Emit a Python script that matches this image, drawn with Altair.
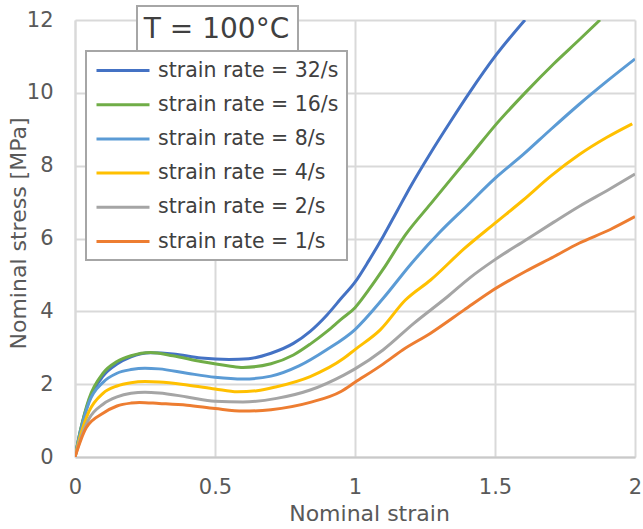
import altair as alt
import pandas as pd

labels = ["strain rate = 32/s", "strain rate = 16/s", "strain rate = 8/s",
          "strain rate = 4/s", "strain rate = 2/s", "strain rate = 1/s"]
colors = ["#4472C4", "#70AD47", "#5B9BD5", "#FFC000", "#A5A5A5", "#ED7D31"]
box_title = ["T = 100°C"]
x_ticks = [0, 0.5, 1, 1.5, 2]
y_ticks = [0, 2, 4, 6, 8, 10, 12]

strain_32 = [0, 0.02, 0.05, 0.1, 0.15, 0.2, 0.27, 0.35, 0.45, 0.55, 0.62, 0.7, 0.78, 0.84, 0.9, 0.95,
             1.0, 1.05, 1.1, 1.15, 1.2, 1.27, 1.34, 1.41, 1.5, 1.607]
stress_32 = [0, 0.75, 1.55, 2.22, 2.55, 2.75, 2.86, 2.83, 2.72, 2.68, 2.7, 2.85, 3.12, 3.45, 3.9, 4.35,
             4.8, 5.4, 6.05, 6.75, 7.45, 8.35, 9.2, 10.02, 11.0, 12.0]

strain_16 = [0, 0.02, 0.05, 0.1, 0.15, 0.2, 0.27, 0.35, 0.45, 0.55, 0.6, 0.7, 0.78, 0.84, 0.9, 0.95,
             1.0, 1.05, 1.1, 1.18, 1.27, 1.35, 1.42, 1.5, 1.61, 1.71, 1.8, 1.875]
stress_16 = [0, 0.75, 1.6, 2.3, 2.62, 2.78, 2.87, 2.78, 2.62, 2.5, 2.46, 2.56, 2.8, 3.1, 3.45, 3.78,
             4.1, 4.6, 5.15, 6.1, 6.95, 7.7, 8.35, 9.1, 10.02, 10.8, 11.45, 12.0]

strain_8 = [0, 0.02, 0.05, 0.1, 0.15, 0.2, 0.25, 0.3, 0.4, 0.5, 0.6, 0.7, 0.8, 0.9, 1.0,
            1.1, 1.2, 1.3, 1.4, 1.5, 1.6, 1.7, 1.8, 1.9, 2.0]
stress_8 = [0, 0.7, 1.5, 2.05, 2.3, 2.4, 2.44, 2.42, 2.3, 2.19, 2.14, 2.22, 2.5, 2.95, 3.5,
            4.35, 5.3, 6.15, 6.9, 7.65, 8.3, 9.0, 9.68, 10.32, 10.93]

strain_4 = [0, 0.02, 0.05, 0.1, 0.15, 0.2, 0.25, 0.3, 0.4, 0.5, 0.58, 0.65, 0.72, 0.84, 0.96, 1.0,
            1.09, 1.18, 1.27, 1.39, 1.5, 1.6, 1.7, 1.8, 1.9, 1.99]
stress_4 = [0, 0.6, 1.25, 1.75, 1.95, 2.04, 2.07, 2.06, 1.98, 1.87, 1.79, 1.82, 1.93, 2.21, 2.71, 2.95,
            3.49, 4.31, 4.86, 5.72, 6.42, 7.05, 7.72, 8.3, 8.78, 9.15]

strain_2 = [0, 0.02, 0.05, 0.1, 0.15, 0.2, 0.25, 0.3, 0.4, 0.5, 0.6, 0.72, 0.84, 0.96, 1.0,
            1.1, 1.21, 1.33, 1.41, 1.5, 1.61, 1.71, 1.8, 1.91, 2.0]
stress_2 = [0, 0.5, 1.05, 1.45, 1.65, 1.75, 1.78, 1.76, 1.65, 1.53, 1.51, 1.61, 1.84, 2.25, 2.42,
            2.94, 3.67, 4.4, 4.92, 5.42, 5.96, 6.45, 6.88, 7.36, 7.77]

strain_1 = [0, 0.02, 0.04, 0.1, 0.15, 0.2, 0.23, 0.3, 0.4, 0.5, 0.6, 0.7, 0.84, 0.95, 1.0,
            1.1, 1.17, 1.27, 1.39, 1.48, 1.61, 1.71, 1.8, 1.91, 2.0]
stress_1 = [0, 0.45, 0.8, 1.2, 1.4, 1.48, 1.5, 1.47, 1.42, 1.33, 1.26, 1.3, 1.5, 1.8, 2.05,
            2.55, 2.94, 3.4, 4.04, 4.52, 5.1, 5.5, 5.87, 6.24, 6.6]

series = [(strain_32, stress_32), (strain_16, stress_16), (strain_8, stress_8),
          (strain_4, stress_4), (strain_2, stress_2), (strain_1, stress_1)]

rows = []
for label, (xs, ys) in zip(labels, series):
    for i, (xv, yv) in enumerate(zip(xs, ys)):
        rows.append({"series": label, "strain": xv, "stress": yv, "idx": i})
df = pd.DataFrame(rows)

FONT = "DejaVu Sans"

lines = alt.Chart(df).mark_line(strokeWidth=3, interpolate="monotone", clip=True).encode(
    x=alt.X("strain:Q",
            scale=alt.Scale(domain=[0, 2], nice=False, zero=False),
            axis=alt.Axis(values=x_ticks, format="~g", title="Nominal strain",
                          labelPadding=19, ticks=False, labelFontSize=21, labelFlush=False,
                          titleFontSize=22, titleX=294, titleY=63,
                          titleBaseline="alphabetic", titleAlign="center",
                          domainColor="#c9c9c9", domainWidth=2,
                          gridColor="#d9d9d9", gridWidth=2)),
    y=alt.Y("stress:Q",
            scale=alt.Scale(domain=[0, 12], nice=False),
            axis=alt.Axis(values=y_ticks, title="Nominal stress [MPa]",
                          labelPadding=22, ticks=False, labelFontSize=21, labelFlush=False,
                          titleFontSize=22, titleX=-57, titleY=213, titleAngle=270,
                          titleBaseline="middle", titleAlign="center",
                          domainColor="#d9d9d9", domainWidth=2,
                          gridColor="#d9d9d9", gridWidth=2)),
    color=alt.Color("series:N",
                    scale=alt.Scale(domain=labels, range=colors),
                    legend=alt.Legend(title=None, orient="none", legendX=11, legendY=31,
                                      symbolType="M-2.65,0H2.65", symbolSize=400,
                                      symbolStrokeWidth=3, symbolOffset=17.5,
                                      labelOffset=23.5, labelFontSize=20.5, labelFont=FONT,
                                      labelColor="#404040", rowPadding=12.2, padding=8,
                                      strokeColor="#a6a6a6", fillColor="white",
                                      labelLimit=400)),
    order=alt.Order("idx:Q"),
)

title_df = pd.DataFrame({"label": box_title})
box = alt.Chart(title_df).mark_rect(fill="white", stroke="#a6a6a6", strokeWidth=2).encode(
    x=alt.value(62), x2=alt.value(223), y=alt.value(-14), y2=alt.value(31)
)
box_text = alt.Chart(title_df).mark_text(fontSize=28, font=FONT, color="#404040",
                                         align="center", baseline="alphabetic").encode(
    x=alt.value(141.5), y=alt.value(17.5), text="label:N"
)

chart = alt.layer(lines, box, box_text).properties(
    width=560, height=437,
    autosize=alt.AutoSizeParams(type="none"),
    padding={"left": 75, "top": 20, "right": 8, "bottom": 72},
).configure_axis(
    labelFont=FONT, titleFont=FONT, labelColor="#595959", titleColor="#595959",
    titleFontWeight="normal"
).configure_legend(
    strokeWidth=2
).configure_view(
    stroke=None
)

chart.save("out.html", embed_options={"renderer": "svg", "actions": False})
